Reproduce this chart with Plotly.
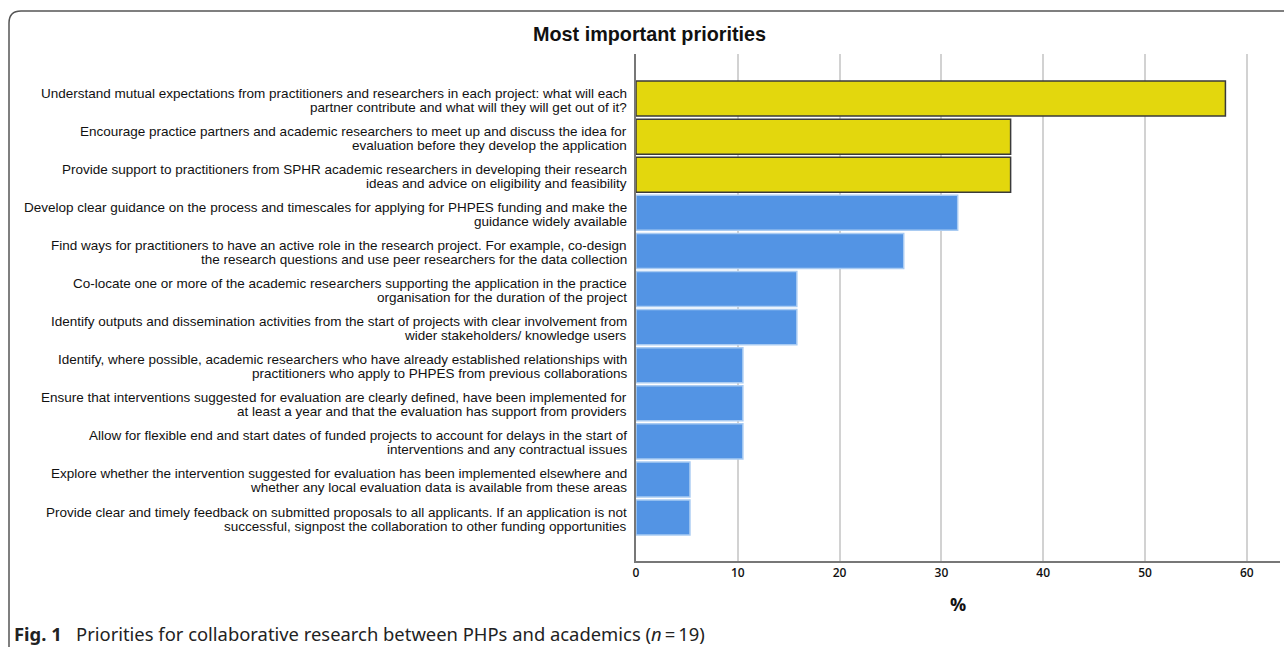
import plotly.graph_objects as go

# ---- data ----
line1 = [
    "Understand mutual expectations from practitioners and researchers in each project: what will each",
    "Encourage practice partners and academic researchers to meet up and discuss the idea for",
    "Provide support to practitioners from SPHR academic researchers in developing their research",
    "Develop clear guidance on the process and timescales for applying for PHPES funding and make the",
    "Find ways for practitioners to have an active role in the research project. For example, co-design",
    "Co-locate one or more of the academic researchers supporting the application in the practice",
    "Identify outputs and dissemination activities from the start of projects with clear involvement from",
    "Identify, where possible, academic researchers who have already established relationships with",
    "Ensure that interventions suggested for evaluation are clearly defined, have been implemented for",
    "Allow for flexible end and start dates of funded projects to account for delays in the start of",
    "Explore whether the intervention suggested for evaluation has been implemented elsewhere and",
    "Provide clear and timely feedback on submitted proposals to all applicants. If an application is not",
]
line2 = [
    "partner contribute and what will they will get out of it?",
    "evaluation before they develop the application",
    "ideas and advice on eligibility and feasibility",
    "guidance widely available",
    "the research questions and use peer researchers for the data collection",
    "organisation for the duration of the project",
    "wider stakeholders/ knowledge users",
    "practitioners who apply to PHPES from previous collaborations",
    "at least a year and that the evaluation has support from providers",
    "interventions and any contractual issues",
    "whether any local evaluation data is available from these areas",
    "successful, signpost the collaboration to other funding opportunities",
]
percent = [57.9, 36.8, 36.8, 31.6, 26.3, 15.8, 15.8, 10.5, 10.5, 10.5, 5.3, 5.3]
highlight = [True, True, True, False, False, False, False, False, False, False, False, False]
x_ticks = [0, 10, 20, 30, 40, 50, 60]

categories = [a + " " + b for a, b in zip(line1, line2)]

# ---- styling ----
W, H = 1284, 647
L, R, T, B = 636, 1280, 54, 561
YELLOW, BLUE = "#E3D70D", "#5394E4"
LABEL_FONT = dict(family="Liberation Sans, Arial", size=13.5, color="#111")

def px(x):
    return (x - L) / (R - L)

def py(y):
    return (B - y) / (B - T)

fig = go.Figure()
fig.add_trace(go.Bar(
    x=percent,
    y=categories,
    orientation="h",
    marker=dict(
        color=[YELLOW if h else BLUE for h in highlight],
        line=dict(color=["#3A3A3A" if h else "#A9CBF2" for h in highlight], width=1.5),
    ),
    hoverinfo="x+y",
))

annotations = []
for cat, a, b in zip(categories, line1, line2):
    annotations.append(dict(text=a, x=0, xref="paper", y=cat, yref="y",
                            xanchor="right", yanchor="middle", xshift=-7, yshift=5.5,
                            showarrow=False, font=LABEL_FONT))
    annotations.append(dict(text=b, x=0, xref="paper", y=cat, yref="y",
                            xanchor="right", yanchor="middle", xshift=-7, yshift=-8.5,
                            showarrow=False, font=LABEL_FONT))

annotations.append(dict(text="<b>Most important priorities</b>", x=px(649), y=py(34),
                        xref="paper", yref="paper", xanchor="center", yanchor="middle",
                        showarrow=False,
                        font=dict(family="Liberation Sans, Arial", size=19.8, color="#111")))
annotations.append(dict(text="<b>%</b>", x=0.5, y=py(604),
                        xref="paper", yref="paper", xanchor="center", yanchor="middle",
                        showarrow=False,
                        font=dict(family="Open Sans, Noto Sans", size=18, color="#111")))
annotations.append(dict(text="<b>Fig. 1</b>\u00a0\u00a0 Priorities for collaborative research between PHPs and academics (<i>n</i>\u2009=\u200919)",
                        x=px(12), y=py(633),
                        xref="paper", yref="paper", xanchor="left", yanchor="middle",
                        showarrow=False,
                        font=dict(family="Noto Sans, Open Sans", size=18.4, color="#222")))

r = 12
box_path = (f"M {px(9)},{py(700)} L {px(9)},{py(11 + r)} "
            f"Q {px(9)},{py(11)} {px(9 + r)},{py(11)} L {px(1300)},{py(11)}")

fig.update_layout(
    width=W, height=H,
    margin=dict(l=L, r=W - R, t=T, b=H - B, pad=0),
    paper_bgcolor="white", plot_bgcolor="white",
    showlegend=False,
    bargap=0.08,
    annotations=annotations,
    shapes=[dict(type="path", path=box_path, xref="paper", yref="paper",
                 line=dict(color="#555555", width=1.5), layer="below")],
    xaxis=dict(range=[0, (R - L) / 10.18], tickvals=x_ticks, ticktext=[str(v) for v in x_ticks],
               showgrid=True, gridcolor="#D2D2D2", gridwidth=1.5,
               showline=True, linecolor="#777777", linewidth=1.5,
               zeroline=False, ticks="",
               tickfont=dict(family="Open Sans, Noto Sans", size=12, color="#111", weight=600)),
    yaxis=dict(range=[len(categories) - 1 + 1.14, -1.17], showticklabels=False,
               showgrid=False, showline=True, linecolor="#777777", linewidth=1.5,
               ticks="", zeroline=False),
)

fig.write_html("out.html", config={"displayModeBar": False},
               post_script="document.body.style.margin='0';document.body.style.overflow='hidden';")
